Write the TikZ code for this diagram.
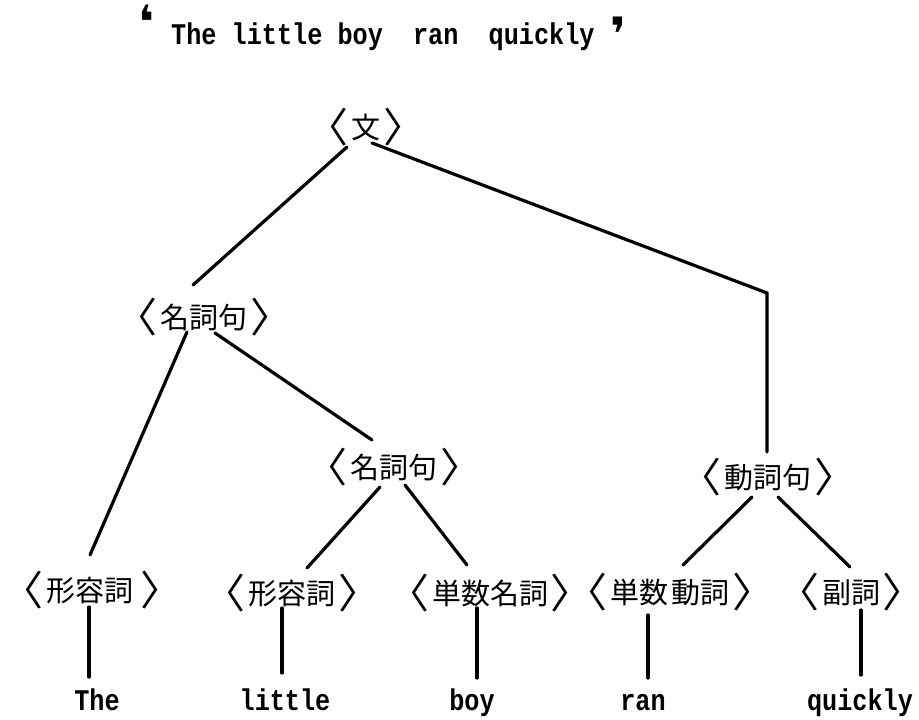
\documentclass[tikz,border=0pt]{standalone}
\usepackage{graphicx}
\usepackage{fontspec}
\newfontfamily\cjkfont{Noto Sans CJK JP}
\newfontfamily\cjkbr[RawFeature=+palt]{Noto Sans CJK JP}
\newfontfamily\twfont[FakeStretch=0.84]{Liberation Mono}
\newfontfamily\quotefont{DejaVu Sans}
\newcommand\catlb{\raisebox{-4pt}{\scalebox{1.45}[1.4]{\cjkbr 〈}}\hspace{4pt}}
\newcommand\catrb{\hspace{4pt}\raisebox{-4pt}{\scalebox{1.45}[1.4]{\cjkbr 〉}}}
\begin{document}
\begin{tikzpicture}[x=1pt,y=-1pt,
  cat/.style={font=\cjkfont\fontsize{29}{29}\selectfont, inner sep=0pt, anchor=center},
  word/.style={font=\twfont\bfseries\fontsize{30}{30}\selectfont, inner sep=0pt, anchor=base},
  qmark/.style={font=\quotefont\bfseries\fontsize{46}{46}\selectfont, inner sep=0pt, anchor=center},
  edge/.style={line width=3.2pt, line cap=round}]
\useasboundingbox (0,0) rectangle (919,720);

% title sentence
\node[qmark] (qopen) at (146,22) {❛};
\node[word, anchor=base west] (sent) at (171,45) {The~little~boy~~ran~~quickly};
\node[qmark] (qclose) at (618,34) {❜};

% category nodes
\node[cat] (root) at (366,127) {\catlb 文\catrb};
\node[cat] (np1)  at (204,317) {\catlb 名詞句\catrb};
\node[cat] (np2)  at (394,467) {\catlb 名詞句\catrb};
\node[cat] (vp)   at (768,477) {\catlb 動詞句\catrb};
\node[cat] (adj1) at (92,590)  {\catlb 形容詞\hspace{4pt}\catrb};
\node[cat] (adj2) at (292,593) {\catlb 形容詞\catrb};
\node[cat] (nsg)  at (490,593) {\catlb 単数名詞\catrb};
\node[cat] (vsg)  at (670,592) {\catlb 単数\hspace{4pt}動詞\catrb};
\node[cat] (adv)  at (851,592) {\catlb 副詞\catrb};

% leaves
\node[word] (the)     at (97,710)  {The};
\node[word] (little)  at (285,710) {little};
\node[word] (boy)     at (472,710) {boy};
\node[word] (ran)     at (643,710) {ran};
\node[word] (quickly) at (860,710) {quickly};

\coordinate (bend) at (767,293);

% connectors
\draw[edge] ([shift={(-19,20)}]root.center) -- ([shift={(-11,-32)}]np1.center);
\draw[edge, line join=miter] ([shift={(6,16)}]root.center) -- (bend) -- ([shift={(-1,-25)}]vp.center);
\draw[edge] ([shift={(-17,15)}]np1.center) -- ([shift={(-2,-35)}]adj1.center);
\draw[edge] ([shift={(11,16)}]np1.center) -- ([shift={(-22,-27)}]np2.center);
\draw[edge] ([shift={(-14,20)}]np2.center) -- ([shift={(15,-25)}]adj2.center);
\draw[edge] ([shift={(11,18)}]np2.center) -- ([shift={(-23,-28)}]nsg.center);
\draw[edge] ([shift={(-16,20)}]vp.center) -- ([shift={(13,-27)}]vsg.center);
\draw[edge] ([shift={(10,20)}]vp.center) -- ([shift={(-1,-25)}]adv.center);

\draw[edge] ([shift={(-3,17)}]adj1.center) -- ([shift={(-8,-33)}]the.base);
\draw[edge] ([shift={(-10,15)}]adj2.center) -- ([shift={(-3,-37)}]little.base);
\draw[edge] ([shift={(-13,15)}]nsg.center) -- ([shift={(5,-32)}]boy.base);
\draw[edge] ([shift={(-22,23)}]vsg.center) -- ([shift={(5,-32)}]ran.base);
\draw[edge] ([shift={(10,18)}]adv.center) -- ([shift={(1,-35)}]quickly.base);
\end{tikzpicture}
\end{document}
